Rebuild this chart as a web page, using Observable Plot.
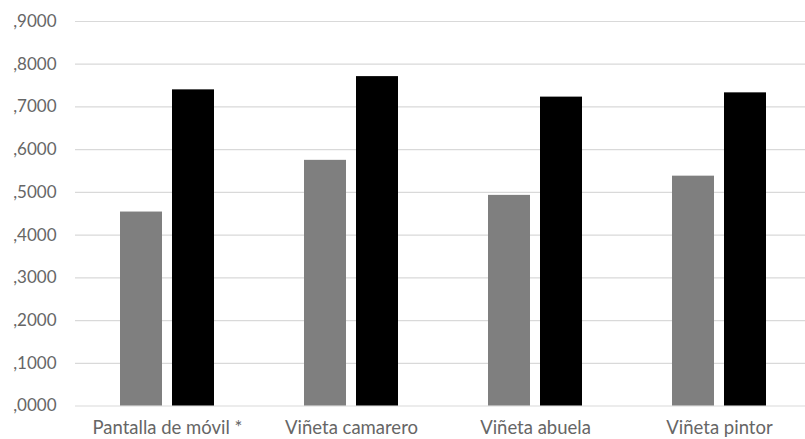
<!DOCTYPE html>
<html>
<head>
<meta charset="utf-8">
<script src="https://cdn.jsdelivr.net/npm/d3@7"></script>
<script src="https://cdn.jsdelivr.net/npm/@observablehq/plot@0.6"></script>
<style>
  html, body { margin: 0; padding: 0; background: #fff; }
  #chart svg { display: block; }
</style>
</head>
<body>
<div id="chart"></div>
<script>
const categories = ["Pantalla de móvil *", "Viñeta camarero", "Viñeta abuela", "Viñeta pintor"];
const seriesGray = [0.454, 0.575, 0.493, 0.538];
const seriesBlack = [0.740, 0.771, 0.723, 0.733];
const yTicks = [0, 0.1, 0.2, 0.3, 0.4, 0.5, 0.6, 0.7, 0.8, 0.9];

const grayData = categories.map((c, i) => ({cat: c, value: seriesGray[i]}));
const blackData = categories.map((c, i) => ({cat: c, value: seriesBlack[i]}));

const fmt = v => d3.format(".4f")(v).replace(/^0\./, ",");

const chart = Plot.plot({
  width: 805,
  height: 439,
  marginLeft: 75,
  marginRight: 0,
  marginTop: 21,
  marginBottom: 33.5,
  style: {fontFamily: "Lato, sans-serif", fontSize: "17px", color: "#595959", background: "#fff"},
  x: {domain: categories, range: [75, 811], padding: 0},
  y: {domain: [0, 0.9], ticks: yTicks},
  marks: [
    Plot.ruleY(yTicks, {stroke: "#d9d9d9", strokeWidth: 1.2}),
    Plot.barY(grayData, {x: "cat", y: "value", fill: "#7f7f7f", insetLeft: 45, insetRight: 97}),
    Plot.barY(blackData, {x: "cat", y: "value", fill: "#000000", insetLeft: 97, insetRight: 45}),
    Plot.axisY({ticks: yTicks, tickFormat: fmt, tickSize: 0, tickPadding: 19, label: null, fill: "#666"}),
    Plot.axisX({tickSize: 0, tickPadding: 14.5, label: null, fontSize: 18.5, fill: "#666"})
  ]
});
document.getElementById("chart").appendChild(chart);
</script>
</body>
</html>
